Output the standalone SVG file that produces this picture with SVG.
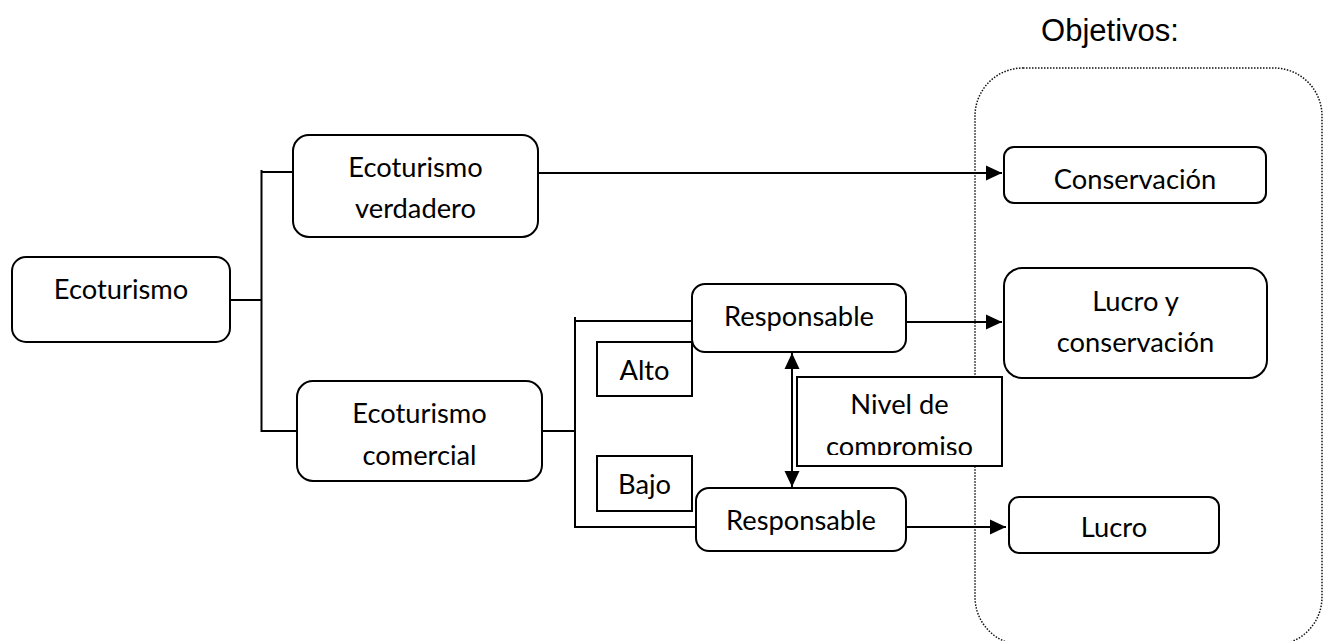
<svg xmlns="http://www.w3.org/2000/svg" width="1324" height="641" viewBox="0 0 1324 641">
<defs>
<style>
.box{fill:#fff;stroke:#000;stroke-width:2}
.t{font-family:Lato,"Liberation Sans",sans-serif;font-size:27.3px;fill:#000;text-anchor:middle}
.c{fill:none;stroke:#000;stroke-width:2}
</style>
<marker id="ah" markerUnits="userSpaceOnUse" markerWidth="18" markerHeight="18" viewBox="0 0 18 18" refX="16" refY="9" orient="auto-start-reverse">
<path d="M0,1.5 L16,9 L0,16.5 Z" fill="#000"/>
</marker>
<clipPath id="nclip"><rect x="797" y="377" width="205" height="78"/></clipPath>
</defs>
<rect id="objetivos-frame" x="975" y="68" width="347" height="577" rx="48" ry="48" fill="none" stroke="#111" stroke-width="1.5" stroke-dasharray="1.5 1.5"/>
<text x="1110" y="41" style="font-family:'Liberation Sans',Arial,sans-serif;font-size:31px;text-anchor:middle">Objetivos:</text>
<g id="connectors">
<path class="c" d="M230 300 H261.5 M261.5 170 V432 M261.5 172 H293 M261.5 431 H297"/>
<path class="c" d="M538 173 H1002" marker-end="url(#ah)"/>
<path class="c" d="M542 431 H575 M575 317 V528 M575 321 H692 M575 527 H696"/>
<path class="c" d="M906 322 H1002" marker-end="url(#ah)"/>
<path class="c" d="M906 527 H1006" marker-end="url(#ah)"/>
<path class="c" d="M792 353 V487" marker-start="url(#ah)" marker-end="url(#ah)"/>
</g>
<g id="ecoturismo"><rect class="box" x="12" y="257" width="218" height="85" rx="14"/><text class="t" x="121" y="299">Ecoturismo</text></g>
<g id="verdadero"><rect class="box" x="293" y="135" width="245" height="102" rx="16"/><text class="t" x="415.5" y="177">Ecoturismo</text><text class="t" x="415.5" y="218">verdadero</text></g>
<g id="comercial"><rect class="box" x="297" y="381" width="245" height="100" rx="16"/><text class="t" x="419.5" y="423">Ecoturismo</text><text class="t" x="419.5" y="465">comercial</text></g>
<g id="alto"><rect class="box" x="597" y="342" width="95" height="54"/><text class="t" x="644.5" y="380">Alto</text></g>
<g id="bajo"><rect class="box" x="597" y="456" width="95" height="55"/><text class="t" x="644.5" y="494">Bajo</text></g>
<g id="responsable-alto"><rect class="box" x="692" y="284" width="214" height="68" rx="13"/><text class="t" x="799" y="326">Responsable</text></g>
<g id="responsable-bajo"><rect class="box" x="696" y="488" width="210" height="63" rx="13"/><text class="t" x="801" y="530">Responsable</text></g>
<g id="nivel"><rect class="box" x="797" y="377" width="205" height="89"/><g clip-path="url(#nclip)"><text class="t" x="899.5" y="414">Nivel de</text><text class="t" x="899.5" y="456">compromiso</text></g></g>
<g id="conservacion"><rect class="box" x="1004" y="147" width="262" height="56" rx="10"/><text class="t" x="1135" y="189">Conservación</text></g>
<g id="lucro-conservacion"><rect class="box" x="1004" y="268" width="263" height="110" rx="18"/><text class="t" x="1135.5" y="311">Lucro y</text><text class="t" x="1135.5" y="352">conservación</text></g>
<g id="lucro"><rect class="box" x="1009" y="497" width="210" height="56" rx="10"/><text class="t" x="1114" y="537">Lucro</text></g>
</svg>
